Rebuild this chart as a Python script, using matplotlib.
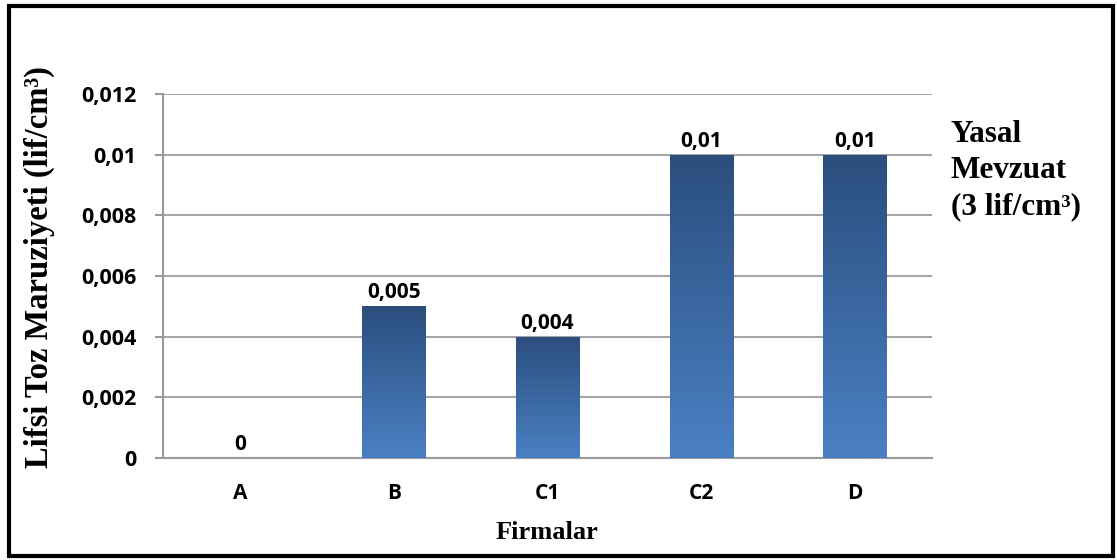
import numpy as np
import matplotlib
matplotlib.use("Agg")
from matplotlib import pyplot as plt
from matplotlib.patches import Rectangle
from matplotlib.colors import LinearSegmentedColormap

# Lifsi toz maruziyeti, firmalara göre
firmalar = ['A', 'B', 'C1', 'C2', 'D']
degerler = [0, 0.005, 0.004, 0.01, 0.01]
etiketler = ['0', '0,005', '0,004', '0,01', '0,01']
y_ticks = [0, 0.002, 0.004, 0.006, 0.008, 0.01, 0.012]
y_tick_labels = ['0', '0,002', '0,004', '0,006', '0,008', '0,01', '0,012']

sans = 'Open Sans'
serif = 'Liberation Serif'

fig = plt.figure(figsize=(11.17, 5.6), dpi=100)
ax = fig.add_axes([0.146, 0.182, 0.688, 0.650])

x = np.arange(len(firmalar))
bars = ax.bar(x, degerler, width=0.41, color='#3a67a3', zorder=2)

# Vertical gradient inside each bar (dark top, lighter bottom)
cmap = LinearSegmentedColormap.from_list('bar', ['#4a80c4', '#2b4e7d'])
grad = np.linspace(0, 1, 256).reshape(-1, 1)
for b in bars:
    if b.get_height() <= 0:
        continue
    x0, w, h = b.get_x(), b.get_width(), b.get_height()
    im = ax.imshow(grad, cmap=cmap, aspect='auto', origin='lower',
                   extent=[x0, x0 + w, 0, h], zorder=3)
    im.set_clip_path(b)

for xi, v, lab in zip(x, degerler, etiketler):
    ax.text(xi, v + 0.0001, lab, ha='center', va='bottom',
            fontsize=15, fontweight='bold', family=sans, zorder=4)

ax.set_xlim(-0.5, len(firmalar) - 0.5)
ax.set_ylim(0, 0.012)
ax.set_yticks(y_ticks)
ax.set_yticklabels(y_tick_labels, fontsize=15.5, fontweight='bold', family=sans)
ax.set_xticks(x)
ax.set_xticklabels(firmalar, fontsize=15, fontweight='bold', family=sans)
ax.tick_params(axis='x', length=0, pad=18)
ax.tick_params(axis='y', length=6, width=1.5, color='#999999', pad=13)

ax.grid(axis='y', color='#a6a6a6', linewidth=1.5, zorder=0)
ax.set_axisbelow(True)
for side in ['top', 'right']:
    ax.spines[side].set_visible(False)
for side in ['left', 'bottom']:
    ax.spines[side].set_color('#999999')
    ax.spines[side].set_linewidth(1.5)

ax.set_xlabel('Firmalar', fontsize=19, fontweight='bold', family=serif, labelpad=12)
ax.set_ylabel('Lifsi Toz Maruziyeti (lif/cm³)', fontsize=23.5,
              fontweight='bold', family=serif)
ax.yaxis.set_label_coords(-0.140, 0.525)

fig.text(0.851, 0.786, 'Yasal\nMevzuat\n(3 lif/cm³)', fontsize=22.5,
         fontweight='bold', family=serif, va='top', ha='left', linespacing=1.32)

# Black frame around the whole chart
fig.patches.append(Rectangle((0.008, 0.007), 0.988, 0.983, transform=fig.transFigure,
                             fill=False, edgecolor='black', linewidth=3))

fig.savefig('out.png', dpi=100)
